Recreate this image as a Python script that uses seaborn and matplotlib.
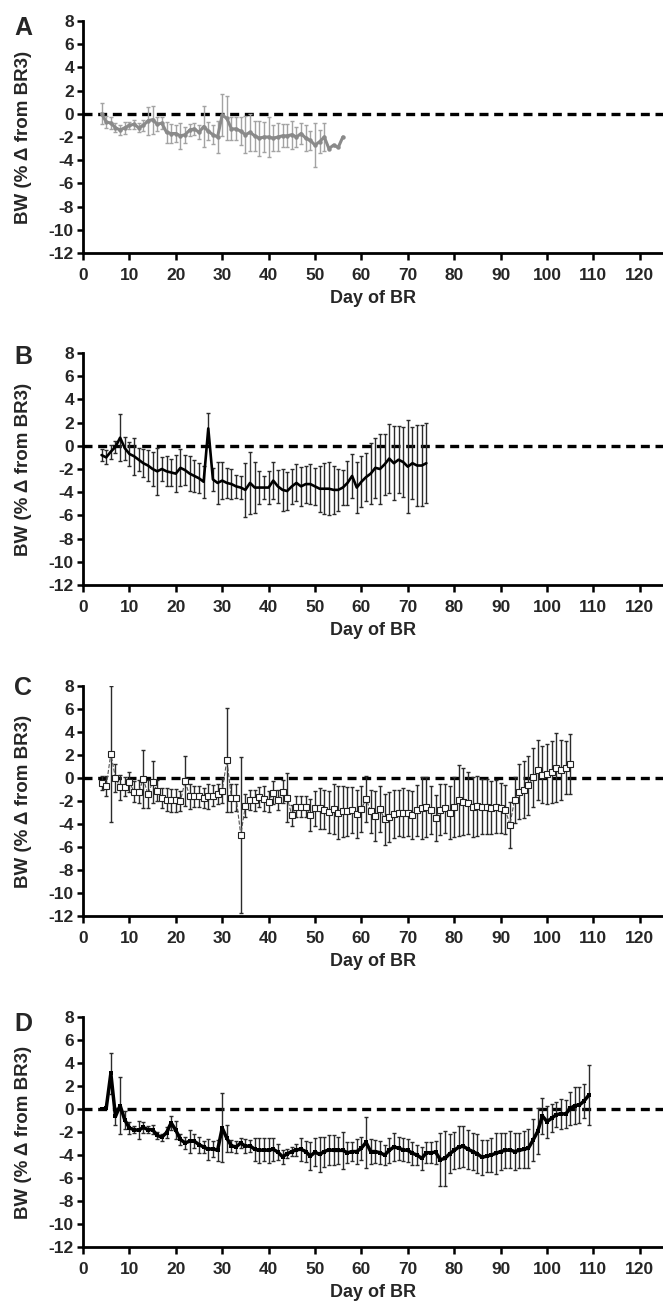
import numpy as np
import matplotlib
matplotlib.use("Agg")
import matplotlib.pyplot as plt
import seaborn as sns

# Panel A: days 4-56
days_a = np.arange(4, 57)
bw_a = [0.0, -0.7, -0.8, -1.2, -1.4, -1.2, -1.0, -0.9, -1.2, -1.0,
        -0.6, -0.5, -0.9, -0.8, -1.6, -1.7, -1.7, -1.9, -1.8, -1.4,
        -1.3, -1.6, -1.1, -1.5, -1.8, -2.0, -0.1, -0.4, -1.3, -1.3,
        -1.5, -1.8, -1.6, -1.9, -2.1, -2.0, -2.0, -2.1, -2.0, -1.9,
        -1.9, -1.8, -2.0, -1.7, -2.1, -2.3, -2.7, -2.4, -2.0, -3.0,
        -2.7, -2.9, -2.0]
sd_a = [0.9, 0.5, 0.5, 0.4, 0.4, 0.5, 0.3, 0.4, 0.4, 0.5,
        1.2, 1.2, 0.6, 0.5, 0.9, 0.8, 0.7, 1.1, 0.7, 0.5,
        0.5, 0.6, 1.8, 0.8, 0.8, 1.4, 1.8, 1.9, 1.0, 1.0,
        1.2, 1.6, 1.6, 1.3, 1.5, 1.3, 1.7, 1.1, 1.2, 1.0,
        1.0, 1.2, 0.9, 0.9, 1.1, 0.8, 1.9, 1.0, 1.2, 0,
        0, 0, 0]

# Panel B: days 4-74
days_b = np.arange(4, 75)
bw_b = [-0.8, -1.0, -0.5, -0.1, 0.7, -0.2, -0.7, -0.9, -1.2, -1.5,
        -1.7, -2.0, -2.2, -2.0, -2.2, -2.3, -2.4, -1.9, -2.1, -2.4,
        -2.6, -2.8, -3.1, 1.5, -2.9, -3.2, -3.0, -3.2, -3.3, -3.5,
        -3.6, -3.8, -3.2, -3.6, -3.6, -3.6, -3.6, -3.0, -3.5, -3.8,
        -3.9, -3.5, -3.2, -3.5, -3.3, -3.3, -3.5, -3.7, -3.7, -3.7,
        -3.8, -3.8, -3.6, -3.2, -2.6, -3.6, -3.1, -2.7, -2.4, -1.9,
        -2.0, -1.6, -1.1, -1.5, -1.2, -1.4, -1.8, -1.5, -1.7, -1.7,
        -1.5]
sd_b = [0.5, 0.6, 0.6, 0.5, 2.0, 1.0, 1.0, 1.6, 1.0, 1.2,
        1.3, 1.5, 2.0, 1.0, 1.3, 1.2, 1.6, 1.6, 1.3, 1.5,
        1.4, 1.3, 1.4, 1.3, 1.0, 1.8, 1.6, 1.3, 1.3, 1.0,
        1.0, 2.3, 2.7, 2.2, 1.4, 1.0, 1.4, 1.6, 1.4, 1.8,
        1.6, 1.5, 1.6, 1.7, 1.6, 1.7, 1.6, 2.0, 2.2, 2.3,
        2.1, 1.8, 1.5, 1.9, 1.9, 2.2, 2.2, 2.1, 2.6, 2.6,
        3.0, 2.6, 3.0, 3.2, 2.9, 3.0, 4.0, 3.1, 3.5, 3.5,
        3.45]

# Panel C: days 4-105
days_c = np.arange(4, 106)
bw_c = [-0.45, -0.7, 2.1, 0.0, -0.8, -0.75, -0.35, -1.2, -1.2, -0.1,
        -1.4, -0.35, -1.1, -1.75, -1.9, -1.95, -1.95, -2.0, -0.25, -1.6,
        -1.6, -1.6, -1.75, -1.6, -1.55, -1.4, -1.1, 1.55, -1.75, -1.7,
        -4.95, -2.4, -1.9, -1.95, -1.65, -1.8, -2.05, -1.3, -1.9, -1.2,
        -1.7, -3.25, -2.5, -2.5, -2.5, -3.25, -2.65, -2.65, -2.75, -2.95,
        -2.7, -3.0, -2.9, -2.9, -2.8, -3.1, -2.7, -1.8, -2.9, -3.3,
        -2.7, -3.6, -3.4, -3.1, -3.0, -3.0, -3.05, -3.2, -2.8, -2.6,
        -2.5, -2.8, -3.5, -2.75, -2.65, -3.0, -2.5, -1.95, -2.05, -2.2,
        -2.5, -2.45, -2.5, -2.5, -2.6, -2.5, -2.6, -2.75, -4.05, -1.95,
        -1.2, -1.0, -0.65, 0.05, 0.7, 0.3, 0.35, 0.55, 0.9, 0.7,
        0.9, 1.2]
sd_c = [0.6, 0.9, 5.9, 1.2, 1.1, 0.8, 0.9, 0.9, 1.0, 2.5,
        1.2, 1.8, 0.9, 0.9, 1.0, 1.0, 1.0, 0.9, 2.2, 1.1,
        0.9, 0.9, 0.9, 1.1, 0.9, 0.9, 1.1, 4.5, 1.2, 1.2,
        6.8, 1.0, 0.9, 0.9, 0.9, 1.1, 0.9, 1.0, 0.9, 1.0,
        2.1, 0.9, 0.9, 0.9, 0.9, 1.4, 1.5, 1.8, 1.7, 1.8,
        2.2, 2.3, 2.2, 2.1, 2.0, 2.1, 2.0, 2.0, 1.9, 2.2,
        2.0, 2.25, 2.2, 2.1, 2.0, 2.1, 2.0, 2.1, 2.2, 2.7,
        2.6, 2.1, 2.0, 2.2, 2.1, 2.3, 2.6, 3.1, 2.9, 2.7,
        2.6, 2.6, 2.4, 2.4, 2.3, 2.3, 2.2, 2.1, 2.0, 2.0,
        2.4, 2.5, 2.6, 2.6, 2.6, 2.5, 2.6, 2.7, 3.0, 2.6,
        2.3, 2.6]

# Panel D: days 4-109
days_d = np.arange(4, 110)
bw_d = [0.0, 0.05, 3.1, -0.65, 0.3, -0.95, -1.65, -1.8, -1.85, -1.6,
        -1.8, -1.8, -2.3, -2.45, -2.05, -1.2, -1.85, -2.65, -2.95, -2.8,
        -2.8, -3.1, -3.3, -3.5, -3.45, -3.6, -1.65, -2.55, -3.2, -3.3,
        -2.95, -3.25, -3.2, -3.5, -3.6, -3.55, -3.6, -3.5, -3.75, -4.15,
        -3.9, -3.7, -3.55, -3.5, -3.7, -4.1, -3.75, -3.95, -3.7, -3.55,
        -3.6, -3.6, -3.6, -3.8, -3.7, -3.7, -3.4, -2.9, -3.7, -3.7,
        -3.8, -4.0, -3.6, -3.3, -3.4, -3.55, -3.6, -3.85, -4.0, -4.3,
        -3.8, -3.8, -3.75, -4.4, -4.3, -3.9, -3.6, -3.3, -3.25, -3.5,
        -3.7, -3.9, -4.2, -4.1, -4.0, -3.85, -3.7, -3.6, -3.55, -3.7,
        -3.6, -3.5, -3.4, -2.7, -1.95, -0.6, -1.1, -0.8, -0.5, -0.4,
        -0.45, 0.05, 0.3, 0.35, 0.7, 1.2]
sd_d = [0, 0, 1.8, 0.7, 2.5, 0.8, 0.5, 0.3, 0.8, 0.5,
        0.3, 0.4, 0.3, 0.3, 0.5, 0.6, 0.8, 0.5, 0.5, 1.0,
        0.6, 0.7, 0.5, 0.9, 0.7, 0.9, 3.0, 1.2, 0.5, 0.5,
        0.4, 0.6, 0.5, 1.0, 1.1, 1.0, 1.1, 1.0, 0.7, 0.6,
        0.4, 0.4, 0.5, 1.0, 0.9, 1.2, 1.2, 1.5, 1.3, 1.3,
        1.3, 1.2, 1.6, 0.9, 0.8, 1.1, 1.0, 2.2, 1.1, 1.0,
        1.0, 0.9, 1.1, 1.2, 1.0, 1.0, 1.0, 1.0, 0.9, 1.0,
        0.9, 0.9, 1.0, 2.3, 2.4, 1.7, 1.6, 1.8, 1.8, 1.7,
        1.6, 1.7, 1.5, 1.4, 1.5, 1.8, 1.6, 1.5, 1.6, 1.6,
        1.5, 1.6, 1.7, 1.8, 2.0, 1.6, 1.4, 1.2, 1.1, 1.3,
        1.2, 1.4, 1.6, 1.6, 1.5, 2.6]

letters = ["A", "B", "C", "D"]
y_ticks = np.arange(-12, 9, 2)
x_ticks = np.arange(0, 121, 10)

sns.set_style("ticks")
plt.rcParams["font.family"] = ["Liberation Sans", "DejaVu Sans"]
plt.rcParams["font.weight"] = "bold"
plt.rcParams["axes.unicode_minus"] = False

W, H = 663, 1309
fig = plt.figure(figsize=(W / 100, H / 100), dpi=100)

# axes boxes in pixels: top of y=8 and bottom at y=-12
tops = [21, 353, 686, 1017]
bottoms = [253, 585, 916, 1247]
letter_tops = [16, 345, 676, 1012]
left_px, right_px = 83, 663


def draw_panel(ax, days, bw, sd, kind):
    days = np.asarray(days)
    bw = np.asarray(bw)
    sd = np.asarray(sd)
    has = sd > 0
    if kind == "A":
        ecol, lcol = "#a3a3a3", "#8a8a8a"
    else:
        ecol, lcol = "#2b2b2b", "black"
    ax.errorbar(days[has], bw[has], yerr=sd[has], fmt="none", ecolor=ecol,
                elinewidth=1.0, capsize=1.6, capthick=1.0, zorder=2)
    if kind == "A":
        sns.lineplot(x=days, y=bw, ax=ax, color=lcol, linewidth=2.2,
                     marker="o", markersize=3.2, markeredgewidth=0, zorder=3)
    elif kind == "B":
        sns.lineplot(x=days, y=bw, ax=ax, color=lcol, linewidth=1.9, zorder=3)
    elif kind == "C":
        sns.lineplot(x=days, y=bw, ax=ax, color="#555555", linewidth=0.8,
                     linestyle="--", marker="s", markersize=3.8,
                     markerfacecolor="white", markeredgecolor="#222222",
                     markeredgewidth=0.8, zorder=3)
    else:
        sns.lineplot(x=days, y=bw, ax=ax, color=lcol, linewidth=2.5,
                     marker="s", markersize=2.5, markeredgewidth=0, zorder=3)


panels = [(days_a, bw_a, sd_a), (days_b, bw_b, sd_b),
          (days_c, bw_c, sd_c), (days_d, bw_d, sd_d)]

for i, (days, bw, sd) in enumerate(panels):
    t, b = tops[i], bottoms[i]
    ax = fig.add_axes([left_px / W, 1 - b / H, (right_px - left_px) / W, (b - t) / H])
    ax.axhline(0, color="black", linewidth=2.4, linestyle=(0, (2.7, 1.7)), zorder=1)
    draw_panel(ax, days, bw, sd, letters[i])
    ax.set_xlim(0, 125)
    ax.set_ylim(-12, 8)
    ax.set_xticks(x_ticks)
    ax.set_yticks(y_ticks)
    ax.set_xticklabels([str(v) for v in x_ticks])
    ax.set_yticklabels([str(v) for v in y_ticks])
    ax.tick_params(axis="both", direction="out", length=4.5, width=1.8,
                   labelsize=12.5, color="black")
    ax.tick_params(axis="y", pad=2)
    ax.tick_params(axis="x", length=5, pad=6)
    for lab in ax.get_xticklabels() + ax.get_yticklabels():
        lab.set_fontweight("bold")
    sns.despine(ax=ax)
    for s in ["left", "bottom"]:
        ax.spines[s].set_linewidth(2.0)
        ax.spines[s].set_color("black")
    ax.set_xlabel("Day of BR", fontsize=13, fontweight="bold", labelpad=5)
    ax.set_ylabel("BW (% \u0394 from BR3)", fontsize=13.5, fontweight="bold")
    ax.yaxis.set_label_coords(-0.088, 0.5)
    fig.text(14 / W, 1 - letter_tops[i] / H, letters[i], fontsize=18,
             fontweight="bold", va="top", ha="left")

fig.savefig("out.png", dpi=100)
